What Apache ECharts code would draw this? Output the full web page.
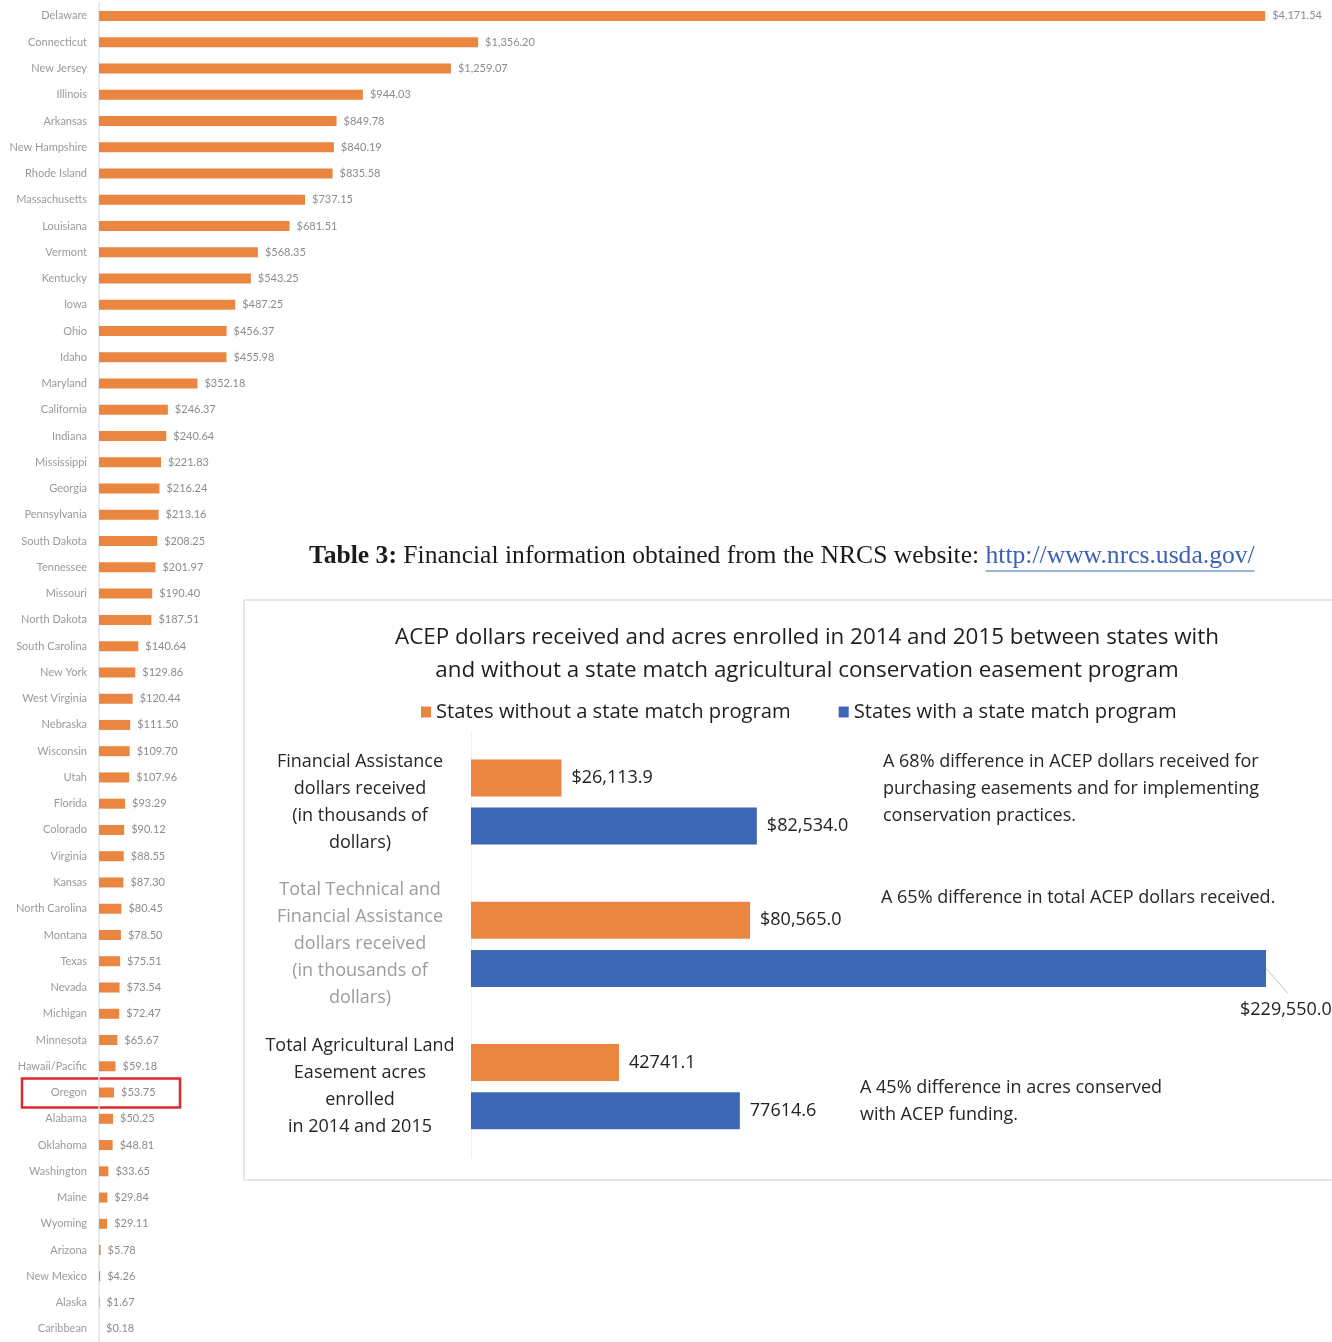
<!DOCTYPE html>
<html>
<head>
<meta charset="utf-8">
<script src="https://cdn.jsdelivr.net/npm/echarts@6/dist/echarts.min.js"></script>
<style>
html,body{margin:0;padding:0;background:#fff;}
#c{width:1332px;height:1342px;}
</style>
</head>
<body>
<div id="c"></div>
<script>
// ---- Left chart: ACEP dollars per state ----
const states = ["Delaware","Connecticut","New Jersey","Illinois","Arkansas","New Hampshire","Rhode Island","Massachusetts","Louisiana","Vermont","Kentucky","Iowa","Ohio","Idaho","Maryland","California","Indiana","Mississippi","Georgia","Pennsylvania","South Dakota","Tennessee","Missouri","North Dakota","South Carolina","New York","West Virginia","Nebraska","Wisconsin","Utah","Florida","Colorado","Virginia","Kansas","North Carolina","Montana","Texas","Nevada","Michigan","Minnesota","Hawaii/Pacific","Oregon","Alabama","Oklahoma","Washington","Maine","Wyoming","Arizona","New Mexico","Alaska","Caribbean"];
const stateValues = [4171.54,1356.20,1259.07,944.03,849.78,840.19,835.58,737.15,681.51,568.35,543.25,487.25,456.37,455.98,352.18,246.37,240.64,221.83,216.24,213.16,208.25,201.97,190.40,187.51,140.64,129.86,120.44,111.50,109.70,107.96,93.29,90.12,88.55,87.30,80.45,78.50,75.51,73.54,72.47,65.67,59.18,53.75,50.25,48.81,33.65,29.84,29.11,5.78,4.26,1.67,0.18];
const highlightState = "Oregon";

// ---- Right chart: ACEP comparison ----
const compCategories = [
  "Financial Assistance\ndollars received\n(in thousands of\ndollars)",
  "Total Technical and\nFinancial Assistance\ndollars received\n(in thousands of\ndollars)",
  "Total Agricultural Land\nEasement acres\nenrolled\nin 2014 and 2015"
];
const seriesWithoutName = "States without a state match program";
const seriesWithName = "States with a state match program";
const withoutValues = [26113.9, 80565.0, 42741.1];
const withValues = [82534.0, 229550.0, 77614.6];
const annotations = [
  "A 68% difference in ACEP dollars received for\npurchasing easements and for implementing\nconservation practices.",
  "A 65% difference in total ACEP dollars received.",
  "A 45% difference in acres conserved\nwith ACEP funding."
];
const chartTitle = "ACEP dollars received and acres enrolled in 2014 and 2015 between states with\nand without a state match agricultural conservation easement program";
const captionBold = "Table 3:";
const captionText = " Financial information obtained from the NRCS website: ";
const captionLink = "http://www.nrcs.usda.gov/";

const ORANGE = '#ea8640';
const BLUE = '#3b67b4';
const SANS = 'Lato, "Open Sans", sans-serif';
const SANS2 = '"Open Sans", sans-serif';
const SERIF = '"Liberation Serif", serif';
const CAP_SIZE = 25.6;

function fmtComp(v, idx) {
  if (idx === 2) return v.toFixed(1);
  return '$' + v.toLocaleString('en-US', {minimumFractionDigits: 1, maximumFractionDigits: 1});
}

const chart = echarts.init(document.getElementById('c'));
chart.setOption({
  animation: false,
  backgroundColor: '#ffffff',
  title: {
    text: chartTitle,
    left: 802, top: 616, textAlign: 'center',
    textStyle: {fontFamily: SANS2, fontSize: 22.4, fontWeight: 'normal', color: '#1e1e1e', lineHeight: 33}
  },
  legend: {
    data: [seriesWithoutName, seriesWithName],
    top: 697, left: 416,
    icon: 'rect', itemWidth: 10, itemHeight: 11, itemGap: 48,
    textStyle: {fontFamily: SANS2, fontSize: 20.2, color: '#1e1e1e'}
  },
  grid: [
    {left: 99, top: 2.8, width: 1230, height: 1344.4, containLabel: false},
    {left: 471, top: 730.9, width: 831.2, height: 426.9, containLabel: false}
  ],
  xAxis: [
    {type: 'value', gridIndex: 0, min: 0, max: 4400, show: false},
    {type: 'value', gridIndex: 1, min: 0, max: 240000, show: false}
  ],
  yAxis: [
    {
      type: 'category', gridIndex: 0, data: states, inverse: true,
      axisLine: {show: true, lineStyle: {color: '#dfe4ea', width: 1.5}},
      axisTick: {show: false},
      axisLabel: {interval: 0, margin: 12, fontSize: 11, color: '#9a9a9a', fontFamily: SANS}
    },
    {
      type: 'category', gridIndex: 1, data: compCategories, inverse: true,
      axisLine: {show: true, lineStyle: {color: '#f0f0f0', width: 1}},
      axisTick: {show: false},
      axisLabel: {
        interval: 0, margin: 111, align: 'center', fontSize: 18, lineHeight: 27,
        fontFamily: SANS2,
        color: function (v, i) { return i === 1 ? '#9c9c9c' : '#262626'; }
      }
    }
  ],
  series: [
    {
      type: 'bar', xAxisIndex: 0, yAxisIndex: 0, data: stateValues,
      barWidth: 10,
      itemStyle: {color: ORANGE},
      label: {
        show: true, position: 'right', distance: 7, fontSize: 11, color: '#8c8c8c', fontFamily: SANS,
        formatter: p => '$' + p.value.toLocaleString('en-US', {minimumFractionDigits: 2, maximumFractionDigits: 2})
      }
    },
    {
      name: seriesWithoutName,
      type: 'bar', xAxisIndex: 1, yAxisIndex: 1, data: withoutValues,
      barWidth: 37, barGap: '30%',
      itemStyle: {color: ORANGE},
      label: {
        show: true, position: 'right', distance: 10, fontSize: 18, color: '#222', fontFamily: SANS2,
        formatter: p => fmtComp(p.value, p.dataIndex)
      }
    },
    {
      name: seriesWithName,
      type: 'bar', xAxisIndex: 1, yAxisIndex: 1, data: withValues,
      barWidth: 37, barGap: '30%',
      itemStyle: {color: BLUE},
      label: {
        show: true, position: 'right', distance: 10, fontSize: 18, color: '#222', fontFamily: SANS2,
        formatter: p => fmtComp(p.value, p.dataIndex)
      },
      labelLayout: function (params) {
        if (params.dataIndex === 1) return {dx: -36, dy: 41};
        return {};
      }
    }
  ]
});

// measure caption widths for the link underline
const mctx = document.createElement('canvas').getContext('2d');
mctx.font = 'bold ' + CAP_SIZE + 'px ' + SERIF;
const wBold = mctx.measureText(captionBold).width;
mctx.font = CAP_SIZE + 'px ' + SERIF;
const wText = mctx.measureText(captionText).width;
const wLink = mctx.measureText(captionLink).width;
const capX = 309;
const linkX = capX + wBold + wText;

const oy = chart.convertToPixel({yAxisIndex: 0}, highlightState);
const catY = compCategories.map((c, i) => chart.convertToPixel({yAxisIndex: 1}, i));
const bigEndX = chart.convertToPixel({xAxisIndex: 1}, withValues[1]);
const bigEndY = catY[1] + 24;

chart.setOption({
  graphic: [
    {type: 'text', left: capX, top: 543, style: {
      text: '{b|' + captionBold + '}{n|' + captionText + '}{l|' + captionLink + '}',
      rich: {
        b: {fontFamily: SERIF, fontSize: CAP_SIZE, fontWeight: 'bold', fill: '#1a1a1a'},
        n: {fontFamily: SERIF, fontSize: CAP_SIZE, fill: '#1a1a1a'},
        l: {fontFamily: SERIF, fontSize: CAP_SIZE, fill: '#3b62b8'}
      }
    }},
    {type: 'line', shape: {x1: linkX, y1: 571, x2: linkX + wLink, y2: 571}, style: {stroke: '#3b62b8', lineWidth: 1.2}},
    {type: 'line', shape: {x1: 244, y1: 600, x2: 1332, y2: 600}, style: {stroke: '#e6e6e6', lineWidth: 2}},
    {type: 'line', shape: {x1: 244, y1: 600, x2: 244, y2: 1180}, style: {stroke: '#e6e6e6', lineWidth: 2}},
    {type: 'line', shape: {x1: 244, y1: 1180, x2: 1332, y2: 1180}, style: {stroke: '#e6e6e6', lineWidth: 2}},
    {type: 'line', shape: {x1: bigEndX, y1: bigEndY, x2: bigEndX + 22, y2: bigEndY + 25}, style: {stroke: '#c4c4c4', lineWidth: 1}},
    {type: 'text', left: 883, top: catY[0] - 54, style: {text: annotations[0], fontFamily: SANS2, fontSize: 18, lineHeight: 27, fill: '#262626'}},
    {type: 'text', left: 881, top: catY[1] - 60, style: {text: annotations[1], fontFamily: SANS2, fontSize: 18, lineHeight: 27, fill: '#262626'}},
    {type: 'text', left: 860, top: catY[2] - 12, style: {text: annotations[2], fontFamily: SANS2, fontSize: 18, lineHeight: 27, fill: '#262626'}},
    {type: 'rect', shape: {x: 22, y: oy - 14, width: 158, height: 29}, style: {fill: 'none', stroke: '#e0282f', lineWidth: 2.5}}
  ]
});
</script>
</body>
</html>
